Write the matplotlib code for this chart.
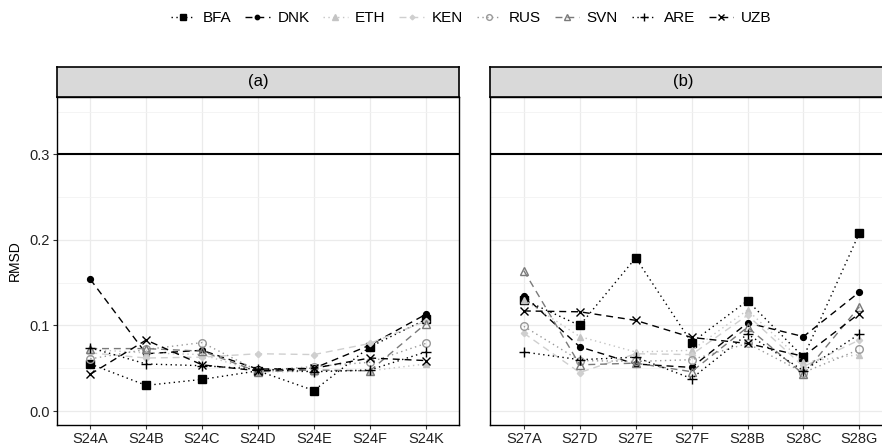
import numpy as np
import matplotlib
matplotlib.use("Agg")
import matplotlib.pyplot as plt
from matplotlib.ticker import MultipleLocator, FormatStrFormatter

plt.rcParams['font.family'] = ['Liberation Sans', 'DejaVu Sans']

# data
cats_a = ['S24A', 'S24B', 'S24C', 'S24D', 'S24E', 'S24F', 'S24K']
cats_b = ['S27A', 'S27D', 'S27E', 'S27F', 'S28B', 'S28C', 'S28G']
countries = ['BFA', 'DNK', 'ETH', 'KEN', 'RUS', 'SVN', 'ARE', 'UZB']

rmsd_a = {
    'BFA': [0.055, 0.030, 0.037, 0.047, 0.024, 0.075, 0.107],
    'DNK': [0.154, 0.067, 0.071, 0.049, 0.050, 0.077, 0.113],
    'ETH': [0.072, 0.068, 0.066, 0.046, 0.046, 0.047, 0.055],
    'KEN': [0.068, 0.062, 0.063, 0.067, 0.066, 0.079, 0.105],
    'RUS': [0.061, 0.072, 0.080, 0.047, 0.052, 0.057, 0.079],
    'SVN': [0.073, 0.073, 0.070, 0.046, 0.048, 0.047, 0.102],
    'ARE': [0.074, 0.055, 0.053, 0.049, 0.046, 0.048, 0.069],
    'UZB': [0.043, 0.083, 0.054, 0.047, 0.050, 0.062, 0.059],
}
rmsd_b = {
    'BFA': [0.130, 0.100, 0.179, 0.080, 0.129, 0.063, 0.208],
    'DNK': [0.135, 0.075, 0.055, 0.051, 0.103, 0.087, 0.139],
    'ETH': [0.130, 0.087, 0.069, 0.071, 0.118, 0.057, 0.066],
    'KEN': [0.091, 0.045, 0.067, 0.066, 0.112, 0.052, 0.083],
    'RUS': [0.099, 0.059, 0.058, 0.060, 0.079, 0.045, 0.072],
    'SVN': [0.164, 0.054, 0.056, 0.046, 0.098, 0.043, 0.122],
    'ARE': [0.069, 0.060, 0.063, 0.038, 0.090, 0.047, 0.090],
    'UZB': [0.117, 0.116, 0.106, 0.086, 0.079, 0.064, 0.114],
}

threshold = 0.3

# styles per country
dot = (0, (1, 2.5))
dash = (0, (5, 3.5))
styles = {
    'BFA': dict(color='black', ls=dot, marker='s', ms=5.5, mfc='black'),
    'DNK': dict(color='black', ls=dash, marker='o', ms=4.2, mfc='black'),
    'ETH': dict(color='#c4c4c4', ls=dot, marker='^', ms=5, mfc='#c4c4c4'),
    'KEN': dict(color='#cfcfcf', ls=dash, marker='D', ms=3.2, mfc='#cfcfcf'),
    'RUS': dict(color='#999999', ls=dot, marker='o', ms=5.5, mfc='none'),
    'SVN': dict(color='#7a7a7a', ls=dash, marker='^', ms=6, mfc='none'),
    'ARE': dict(color='black', ls=dot, marker='+', ms=7.5, mfc='none'),
    'UZB': dict(color='black', ls=dash, marker='x', ms=6, mfc='none'),
}

fig = plt.figure(figsize=(8.82, 4.45), dpi=100)
W, H = 882.0, 445.0

# (left edge px, categories, data, strip label, label x px)
panels = [(56.7, cats_a, rmsd_a, '(a)', 258.0), (490.3, cats_b, rmsd_b, '(b)', 683.0)]
pw = 402.6
ptop, pbot, stop = 96.5, 425.0, 66.7

handles = []
for i, (left, cats, data, title, tx) in enumerate(panels):
    ax = fig.add_axes([left / W, 1 - pbot / H, pw / W, (pbot - ptop) / H])
    x = np.arange(len(cats))
    ax.axhline(threshold, color='black', lw=1.5, zorder=2)
    for c in countries:
        st = styles[c]
        h, = ax.plot(x, data[c], color=st['color'], ls=st['ls'], lw=1.0,
                     marker=st['marker'], ms=st['ms'], mfc=st['mfc'],
                     mec=st['color'], mew=1.0, zorder=3, label=c)
        if i == 0:
            handles.append(h)
    ax.set_xlim(-0.6, len(cats) - 0.4)
    ax.set_ylim(-0.0163, 0.3676)
    ax.set_xticks(x)
    ax.set_xticklabels(cats)
    ax.set_yticks([0.0, 0.1, 0.2, 0.3])
    ax.yaxis.set_major_formatter(FormatStrFormatter('%.1f'))
    ax.yaxis.set_minor_locator(MultipleLocator(0.05))
    ax.grid(which='major', color='#ebebeb', lw=0.9, zorder=0)
    ax.grid(which='minor', axis='y', color='#f2f2f2', lw=0.6, zorder=0)
    ax.set_axisbelow(True)
    ax.tick_params(which='minor', length=0)
    ax.tick_params(which='major', length=3, width=0.8, color='#333333',
                   labelsize=10.5, labelcolor='#222222', pad=2)
    for s in ax.spines.values():
        s.set_color('black')
        s.set_linewidth(1.0)
    if i == 0:
        ax.set_ylabel('RMSD', fontsize=10, labelpad=5)
    else:
        ax.tick_params(axis='y', left=False, labelleft=False)

    # facet strip
    sx = fig.add_axes([left / W, 1 - ptop / H, pw / W, (ptop - stop) / H])
    sx.set_facecolor('#d9d9d9')
    sx.set_xticks([])
    sx.set_yticks([])
    for s in sx.spines.values():
        s.set_color('black')
        s.set_linewidth(1.2)
    sx.text((tx - left) / pw, 0.5, title, ha='center', va='center',
            fontsize=12, transform=sx.transAxes)

fig.legend(handles=handles, labels=countries, loc='center', ncol=8,
           bbox_to_anchor=(471 / W, 1 - 18 / H), frameon=False, fontsize=11,
           handlelength=1.6, handletextpad=0.5, columnspacing=0.9,
           markerscale=0.75)

fig.savefig('out.png', dpi=100)
